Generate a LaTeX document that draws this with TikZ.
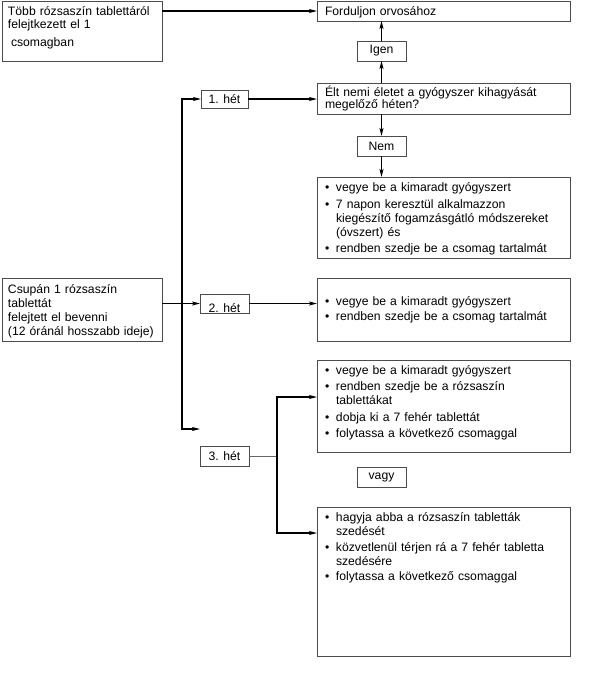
\documentclass[tikz,border=0pt]{standalone}
\usepackage{fontspec}
\setmainfont{Liberation Sans}
\usetikzlibrary{arrows.meta}
\newcommand\bul{\makebox[11pt][l]{•}}
\newcommand\ind{\hspace*{11pt}}
\begin{document}
\begin{tikzpicture}[x=1pt,y=-1pt,
  frame/.style={draw=black!70, line width=0.8pt, anchor=north west, inner sep=0pt, outer sep=0pt},
  lab/.style={draw=black!70, line width=0.8pt, anchor=north west, inner sep=0pt, outer sep=0pt, font=\fontsize{12.2}{14}\selectfont},
  txt/.style={anchor=base west, inner sep=0pt, outer sep=0pt, align=left, text width=240pt},
  conn/.style={line width=1.2pt, -{Stealth[length=8pt,width=4pt,inset=2pt]}},
  thinline/.style={draw=black!60, line width=0.8pt}]
\useasboundingbox (0,0) rectangle (600,689);

% boxes
\node[frame, minimum width=160pt, minimum height=60pt] (A) at (2,1) {};
\node[frame, minimum width=253pt, minimum height=20pt] (F) at (317,1) {};
\node[lab, minimum width=49pt, minimum height=20pt] (Igen) at (357,41) {Igen};
\node[frame, minimum width=253pt, minimum height=31pt] (Elt) at (317,83) {};
\node[lab, minimum width=49pt, minimum height=20pt] (Nem) at (357,136) {Nem};
\node[frame, minimum width=253pt, minimum height=81pt] (B1) at (317,177) {};
\node[frame, minimum width=160pt, minimum height=63pt] (C) at (2,278) {};
\node[lab, minimum width=47pt, minimum height=18pt] (H1) at (201,90) {1. hét};
\node[frame, minimum width=49pt, minimum height=19pt] (H2) at (200,294) {};
\node[frame, minimum width=253pt, minimum height=63pt] (B2) at (317,278) {};
\node[frame, minimum width=253pt, minimum height=92pt] (B3) at (317,360) {};
\node[lab, minimum width=49pt, minimum height=20pt] (H3) at (200,446) {3. hét};
\node[lab, minimum width=49pt, minimum height=20pt] (vagy) at (357,467) {vagy};
\node[frame, minimum width=253pt, minimum height=149pt] (B4) at (317,507) {};

% texts
\node[txt, font=\fontsize{12.2}{12.6}\selectfont] (tA) at (8,15.7)
  {Több rózsaszín tablettáról\\felejtkezett el 1\\[5.8pt]\hspace*{3pt}csomagban};
\node[txt, font=\fontsize{12.2}{14}\selectfont] (tF) at (325,15.5) {Forduljon orvosához};
\node[txt, font=\fontsize{12.2}{12.5}\selectfont] (tElt) at (325,96)
  {Élt nemi életet a gyógyszer kihagyását\\megelőző héten?};
\node[txt, font=\fontsize{12.2}{14}\selectfont] (tB1) at (325,191.7)
  {\bul vegye be a kimaradt gyógyszert\\[2.5pt]
   \bul 7 napon keresztül alkalmazzon\\
   \ind kiegészítő fogamzásgátló módszereket\\
   \ind (óvszert) és\\[2.5pt]
   \bul rendben szedje be a csomag tartalmát};
\node[txt, font=\fontsize{12.2}{14}\selectfont] (tC) at (8,293)
  {Csupán 1 rózsaszín\\tablettát\\felejtett el bevenni\\(12 óránál hosszabb ideje)};
\node[anchor=base, inner sep=0pt, font=\fontsize{12.2}{14}\selectfont] (tH2) at (224.5,312) {2. hét};
\node[txt, font=\fontsize{12.2}{14.3}\selectfont] (tB2) at (325,305.7)
  {\bul vegye be a kimaradt gyógyszert\\
   \bul rendben szedje be a csomag tartalmát};
\node[txt, font=\fontsize{12.2}{14.2}\selectfont] (tB3) at (325,374)
  {\bul vegye be a kimaradt gyógyszert\\[2.4pt]
   \bul rendben szedje be a rózsaszín\\
   \ind tablettákat\\[2.4pt]
   \bul dobja ki a 7 fehér tablettát\\[1.8pt]
   \bul folytassa a következő csomaggal};
\node[txt, font=\fontsize{12.2}{13.5}\selectfont] (tB4) at (325,521.7)
  {\bul hagyja abba a rózsaszín tabletták\\
   \ind szedését\\[3pt]
   \bul közvetlenül térjen rá a 7 fehér tabletta\\
   \ind szedésére\\[2.2pt]
   \bul folytassa a következő csomaggal};

% connectors
\draw[conn] (A.east |- F.west) -- (F.west);
\draw[conn] (Igen.south |- Elt.north) -- (Igen.south);
\draw[conn] (Igen.north) -- (Igen.north |- F.south);
\draw[conn] (Nem.north |- Elt.south) -- (Nem.north);
\draw[conn] (Nem.south) -- (Nem.south |- B1.north);

\coordinate (spt) at (182,99);
\coordinate (spb) at (182,429);
\coordinate (free) at (200,429);
\draw[conn] (spb) -- (spt) -- (H1.west);
\draw[conn] (spt) -- (spb) -- (free);
\draw[conn] (H1.east) -- (H1.east -| Elt.west);
\draw[conn] (C.east |- H2.west) -- (H2.west);
\draw[conn] (H2.east) -- (H2.east -| B2.west);

\coordinate (v3) at (277,456);
\coordinate (t3) at (277,397);
\coordinate (b3) at (277,533);
\draw[thinline] (H3.east) -- (v3);
\draw[conn] (v3) -- (t3) -- (t3 -| B3.west);
\draw[conn] (v3) -- (b3) -- (b3 -| B4.west);
\end{tikzpicture}
\end{document}
